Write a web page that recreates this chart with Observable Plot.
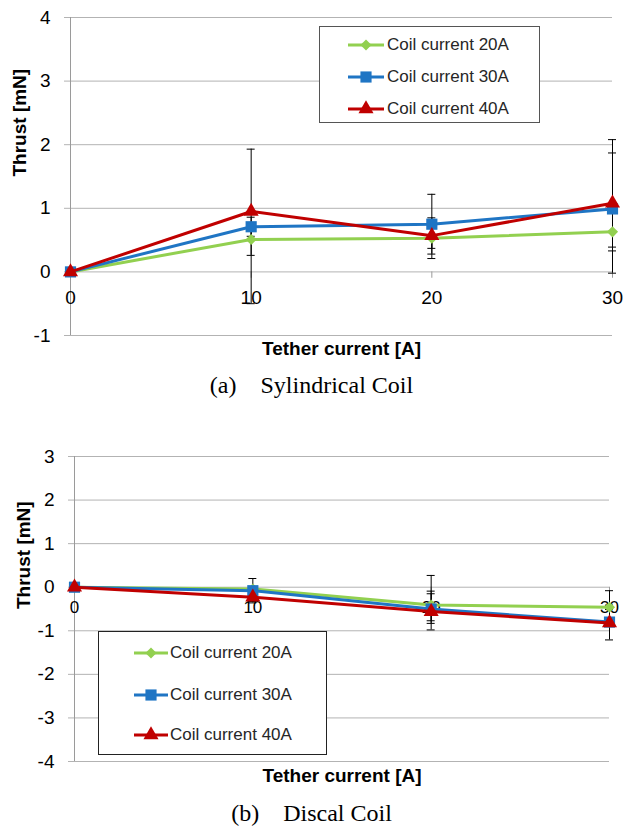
<!DOCTYPE html>
<html>
<head>
<meta charset="utf-8">
<script src="https://cdn.jsdelivr.net/npm/d3@7"></script>
<script src="https://cdn.jsdelivr.net/npm/@observablehq/plot@0.6"></script>
<style>
  html, body { margin: 0; padding: 0; background: #fff; }
  #page { position: relative; width: 623px; height: 826px; overflow: hidden; background: #fff;
          font-family: "Liberation Sans", Arial, sans-serif; }
  .chart { position: absolute; left: 0; }
  .caption { position: absolute; left: 0; width: 623px; text-align: center; white-space: pre;
             font-family: "Liberation Serif", "Times New Roman", serif; font-size: 24px; line-height: 28px; color: #000; }
  .legend { position: absolute; background: #fff; box-sizing: border-box; }
  .legend .row { position: absolute; left: 0; height: 20px; }
  .legend .row svg { position: absolute; top: 0; }
  .legend .row span { position: absolute; top: 0; line-height: 20px; font-size: 17px; color: #262626; white-space: nowrap; }
</style>
</head>
<body>
<div id="page"></div>
<script>
// ---------- data ----------
const tether = [0, 10, 20, 30];
const xTickLabels = ["0", "10", "20", "30"];
const seriesNames = ["Coil current 20A", "Coil current 30A", "Coil current 40A"];
const seriesColors = ["#92d050", "#1f75c4", "#c00000"];
const seriesSymbols = ["diamond2", "square", "triangle"];
const seriesRadius = [5, 6.3, 5.6];

// (a) Sylindrical coil
const yTicksA = [-1, 0, 1, 2, 3, 4];
const a20 = [0, 0.51, 0.53, 0.63];
const a30 = [0, 0.71, 0.75, 0.99];
const a40 = [0, 0.95, 0.57, 1.08];
const a20ErrMinus = [0, 0.25, 0.32, 0.30];
const a20ErrPlus  = [0, 0.25, 0.32, 0.30];
const a30ErrMinus = [0, 0.15, 0.47, 0.60];
const a30ErrPlus  = [0, 0.15, 0.47, 0.88];
const a40ErrMinus = [0, 1.45, 0.20, 1.10];
const a40ErrPlus  = [0, 0.98, 0.20, 1.00];

// (b) Discal coil
const yTicksB = [-4, -3, -2, -1, 0, 1, 2, 3];
const b20 = [0, -0.04, -0.41, -0.46];
const b30 = [0, -0.08, -0.50, -0.80];
const b40 = [0, -0.23, -0.56, -0.82];
const b20ErrMinus = [0, 0.05, 0.36, 0.05];
const b20ErrPlus  = [0, 0.05, 0.32, 0.05];
const b30ErrMinus = [0, 0.28, 0.33, 0.10];
const b30ErrPlus  = [0, 0.28, 0.77, 0.10];
const b40ErrMinus = [0, 0.10, 0.42, 0.39];
const b40ErrPlus  = [0, 0.10, 0.41, 0.74];

// ---------- helpers ----------
function buildRows(vals, minus, plus) {
  const rows = [];
  vals.forEach((v, si) => {
    tether.forEach((x, j) => {
      rows.push({x, y: v[j], lo: v[j] - minus[si][j], hi: v[j] + plus[si][j], s: seriesNames[si], si});
    });
  });
  return rows;
}

function makeChart(cfg) {
  const rows = buildRows(cfg.vals, cfg.minus, cfg.plus);
  const errRows = rows.filter(d => d.hi !== d.lo);
  const yDom = d3.extent(cfg.yTicks);
  const marks = [
    Plot.ruleY(cfg.yTicks, {stroke: "#b3b3b3", strokeWidth: 1, insetLeft: -6}),
    Plot.ruleX([0], {y1: yDom[0], y2: yDom[1], stroke: "#9a9a9a", strokeWidth: 1}),
    Plot.ruleX(tether.slice(1), {y1: 0, y2: cfg.xTickLen, stroke: "#9a9a9a", strokeWidth: 1}),
    Plot.axisY(cfg.yTicks, {tickSize: 0, tickPadding: cfg.tickPad, fill: "#000", fontSize: cfg.yFont,
      tickFormat: d => String(d), label: null}),
    Plot.text(tether, {x: d => d, y: 0, dy: cfg.xLabelDy, text: (d, i) => xTickLabels[i],
      fill: "#000", fontSize: cfg.xFont}),
    // error bars
    Plot.ruleX(errRows, {x: "x", y1: "lo", y2: "hi", stroke: "#000", strokeWidth: 1}),
    Plot.ruleY(errRows, {y: "lo", x1: "x", x2: "x", insetLeft: -4, insetRight: -4, stroke: "#000", strokeWidth: 1}),
    Plot.ruleY(errRows, {y: "hi", x1: "x", x2: "x", insetLeft: -4, insetRight: -4, stroke: "#000", strokeWidth: 1})
  ];
  seriesNames.forEach((name, si) => {
    const sub = rows.filter(d => d.si === si);
    marks.push(Plot.line(sub, {x: "x", y: "y", stroke: seriesColors[si], strokeWidth: 3}));
    marks.push(Plot.dot(sub, {x: "x", y: "y", symbol: seriesSymbols[si], fill: seriesColors[si],
      r: seriesRadius[si], stroke: "none"}));
  });
  marks.push(Plot.text(["Thrust [mN]"], {frameAnchor: "left", dx: cfg.yLabelDx, rotate: -90,
    fontWeight: "bold", fontSize: 19, fill: "#000"}));
  marks.push(Plot.text(["Tether current [A]"], {frameAnchor: "bottom", dy: cfg.xTitleDy,
    fontWeight: "bold", fontSize: 19, fill: "#000"}));

  return Plot.plot({
    width: 623,
    height: cfg.height,
    marginTop: cfg.mt, marginBottom: cfg.mb, marginLeft: cfg.ml, marginRight: cfg.mr,
    x: {domain: [0, 30], axis: null},
    y: {domain: yDom, axis: null},
    style: {fontFamily: '"Liberation Sans", Arial, sans-serif', background: "transparent", overflow: "visible"},
    marks
  });
}

function makeLegend(cfg) {
  const box = document.createElement("div");
  box.className = "legend";
  Object.assign(box.style, {left: cfg.left + "px", top: cfg.top + "px", width: cfg.w + "px",
    height: cfg.h + "px", border: cfg.border});
  seriesNames.forEach((name, si) => {
    const row = document.createElement("div");
    row.className = "row";
    row.style.top = (cfg.rows[si] - 10) + "px";
    row.style.width = cfg.w + "px";
    const svg = d3.create("svg").attr("width", cfg.lineX2 + 4).attr("height", 20);
    svg.append("line").attr("x1", cfg.lineX1).attr("x2", cfg.lineX2).attr("y1", 10).attr("y2", 10)
      .attr("stroke", seriesColors[si]).attr("stroke-width", 3);
    const symMap = {diamond2: d3.symbolDiamond2, square: d3.symbolSquare, triangle: d3.symbolTriangle};
    const r = seriesRadius[si];
    svg.append("path").attr("transform", `translate(${(cfg.lineX1 + cfg.lineX2) / 2},10)`)
      .attr("d", d3.symbol(symMap[seriesSymbols[si]], Math.PI * r * r)())
      .attr("fill", seriesColors[si]);
    row.appendChild(svg.node());
    const span = document.createElement("span");
    span.textContent = name;
    span.style.left = cfg.textX + "px";
    row.appendChild(span);
    box.appendChild(row);
  });
  return box;
}

const page = document.getElementById("page");

// Chart (a)
const chartA = makeChart({
  vals: [a20, a30, a40], minus: [a20ErrMinus, a30ErrMinus, a40ErrMinus], plus: [a20ErrPlus, a30ErrPlus, a40ErrPlus],
  yTicks: yTicksA, height: 365, mt: 17, mb: 30, ml: 70, mr: 11,
  xTickLen: -0.1, tickPad: 20, yFont: 19, xFont: 19, xLabelDy: 26, yLabelDx: -51, xTitleDy: 19
});
chartA.classList.add("chart");
chartA.style.top = "0px";
page.appendChild(chartA);

// Chart (b)
const chartB = makeChart({
  vals: [b20, b30, b40], minus: [b20ErrMinus, b30ErrMinus, b40ErrMinus], plus: [b20ErrPlus, b30ErrPlus, b40ErrPlus],
  yTicks: yTicksB, height: 351, mt: 16, mb: 30, ml: 74, mr: 14,
  xTickLen: -0.12, tickPad: 20, yFont: 19, xFont: 17, xLabelDy: 20, yLabelDx: -51, xTitleDy: 20
});
chartB.classList.add("chart");
chartB.style.top = "440px";
page.appendChild(chartB);

// Legends
page.appendChild(makeLegend({left: 319, top: 26, w: 221, h: 97, border: "1.5px solid #555",
  rows: [17.5, 49.5, 82], lineX1: 28, lineX2: 64, textX: 67}));
page.appendChild(makeLegend({left: 98, top: 631, w: 229, h: 124, border: "1.5px solid #222",
  rows: [21, 62.5, 103], lineX1: 35, lineX2: 69, textX: 71}));

// Captions
const capA = document.createElement("div");
capA.className = "caption"; capA.style.top = "371px"; capA.textContent = "(a)    Sylindrical Coil";
page.appendChild(capA);
const capB = document.createElement("div");
capB.className = "caption"; capB.style.top = "799px"; capB.textContent = "(b)    Discal Coil";
page.appendChild(capB);
</script>
</body>
</html>
